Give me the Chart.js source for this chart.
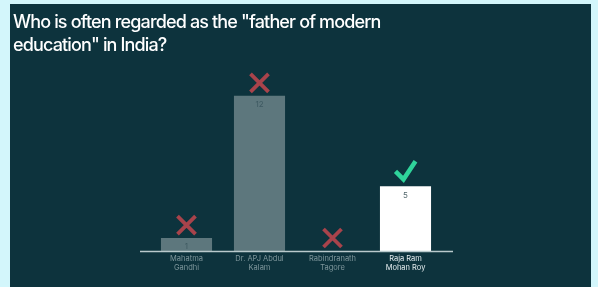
<!DOCTYPE html>
<html>
<head>
<meta charset="utf-8">
<script src="https://cdn.jsdelivr.net/npm/chart.js@4"></script>
<style>
  html, body { margin: 0; padding: 0; background: #d3f6fb; }
  body { width: 598px; height: 287px; position: relative; overflow: hidden; }
  #panel { position: absolute; left: 10px; top: 4px; width: 581px; height: 283px; background: #0d333d; }
</style>
</head>
<body>
<div id="panel"><canvas id="quizChart" width="581" height="283"></canvas></div>
<script>
const question = ['Who is often regarded as the "father of modern', 'education" in India?'];
const answers = [["Mahatma", "Gandhi"], ["Dr. APJ Abdul", "Kalam"], ["Rabindranath", "Tagore"], ["Raja Ram", "Mohan Roy"]];
const votes = [1, 12, 0, 5];
const correct = [false, false, false, true];

const ctx = document.getElementById("quizChart").getContext("2d");

// title + marks above bars
const quizDecor = {
  id: "quizDecor",
  afterDraw(chart) {
    const c = chart.ctx;
    const area = chart.chartArea;
    c.save();
    c.fillStyle = "#ffffff";
    c.font = "500 18px Inter";
    c.letterSpacing = "-0.85px";
    c.textBaseline = "alphabetic";
    c.textAlign = "left";
    c.fillText(question[0], 3, 24);
    c.fillText(question[1], 3, 47);
    c.letterSpacing = "0px";

    // baseline
    c.strokeStyle = "#b9c9cc";
    c.lineWidth = 1.5;
    c.beginPath();
    c.moveTo(area.left - 10, area.bottom + 0.5);
    c.lineTo(area.right + 11, area.bottom + 0.5);
    c.stroke();

    const meta = chart.getDatasetMeta(0);
    meta.data.forEach((bar, i) => {
      const x = bar.x;
      const top = bar.y;
      if (votes[i] > 0) {
        c.fillStyle = correct[i] ? "#51666b" : "#3e5a62";
        c.font = "8px Inter";
        c.textAlign = "center";
        c.textBaseline = "top";
        c.fillText(String(votes[i]), x, top + 5);
      }
      c.lineCap = "butt";
      if (correct[i]) {
        c.strokeStyle = "#2fd49b";
        c.lineWidth = 4.5;
        c.beginPath();
        c.moveTo(x - 10, top - 15);
        c.lineTo(x - 2, top - 7);
        c.lineTo(x + 10, top - 25);
        c.stroke();
      } else {
        const cy = top - 13;
        c.strokeStyle = "#a8434b";
        c.lineWidth = 3.8;
        c.beginPath();
        c.moveTo(x - 9, cy - 9);
        c.lineTo(x + 9, cy + 9);
        c.moveTo(x + 9, cy - 9);
        c.lineTo(x - 9, cy + 9);
        c.stroke();
      }
    });
    c.restore();
  }
};

const quizChart = new Chart(ctx, {
  type: "bar",
  data: {
    labels: answers,
    datasets: [
      {
        data: votes,
        backgroundColor: correct.map(ok => ok ? "#ffffff" : "#5d777d"),
        borderWidth: 0,
        categoryPercentage: 1,
        barPercentage: 0.7,
      },
    ],
  },
  options: {
    responsive: false,
    animation: false,
    layout: { padding: { left: 140, right: 149, top: 66, bottom: 12 } },
    plugins: {
      legend: { display: false },
      tooltip: { enabled: false },
    },
    scales: {
      x: {
        grid: { display: false, drawTicks: false },
        border: { display: false },
        ticks: {
          color: ctx => correct[ctx.index] ? "#e6eef0" : "#7f979c",
          font: { family: "Inter", size: 7.5 },
          padding: 3,
          maxRotation: 0,
        },
      },
      y: {
        display: false,
        min: 0,
        max: 14,
      },
    },
  },
  plugins: [quizDecor],
});
</script>
</body>
</html>
